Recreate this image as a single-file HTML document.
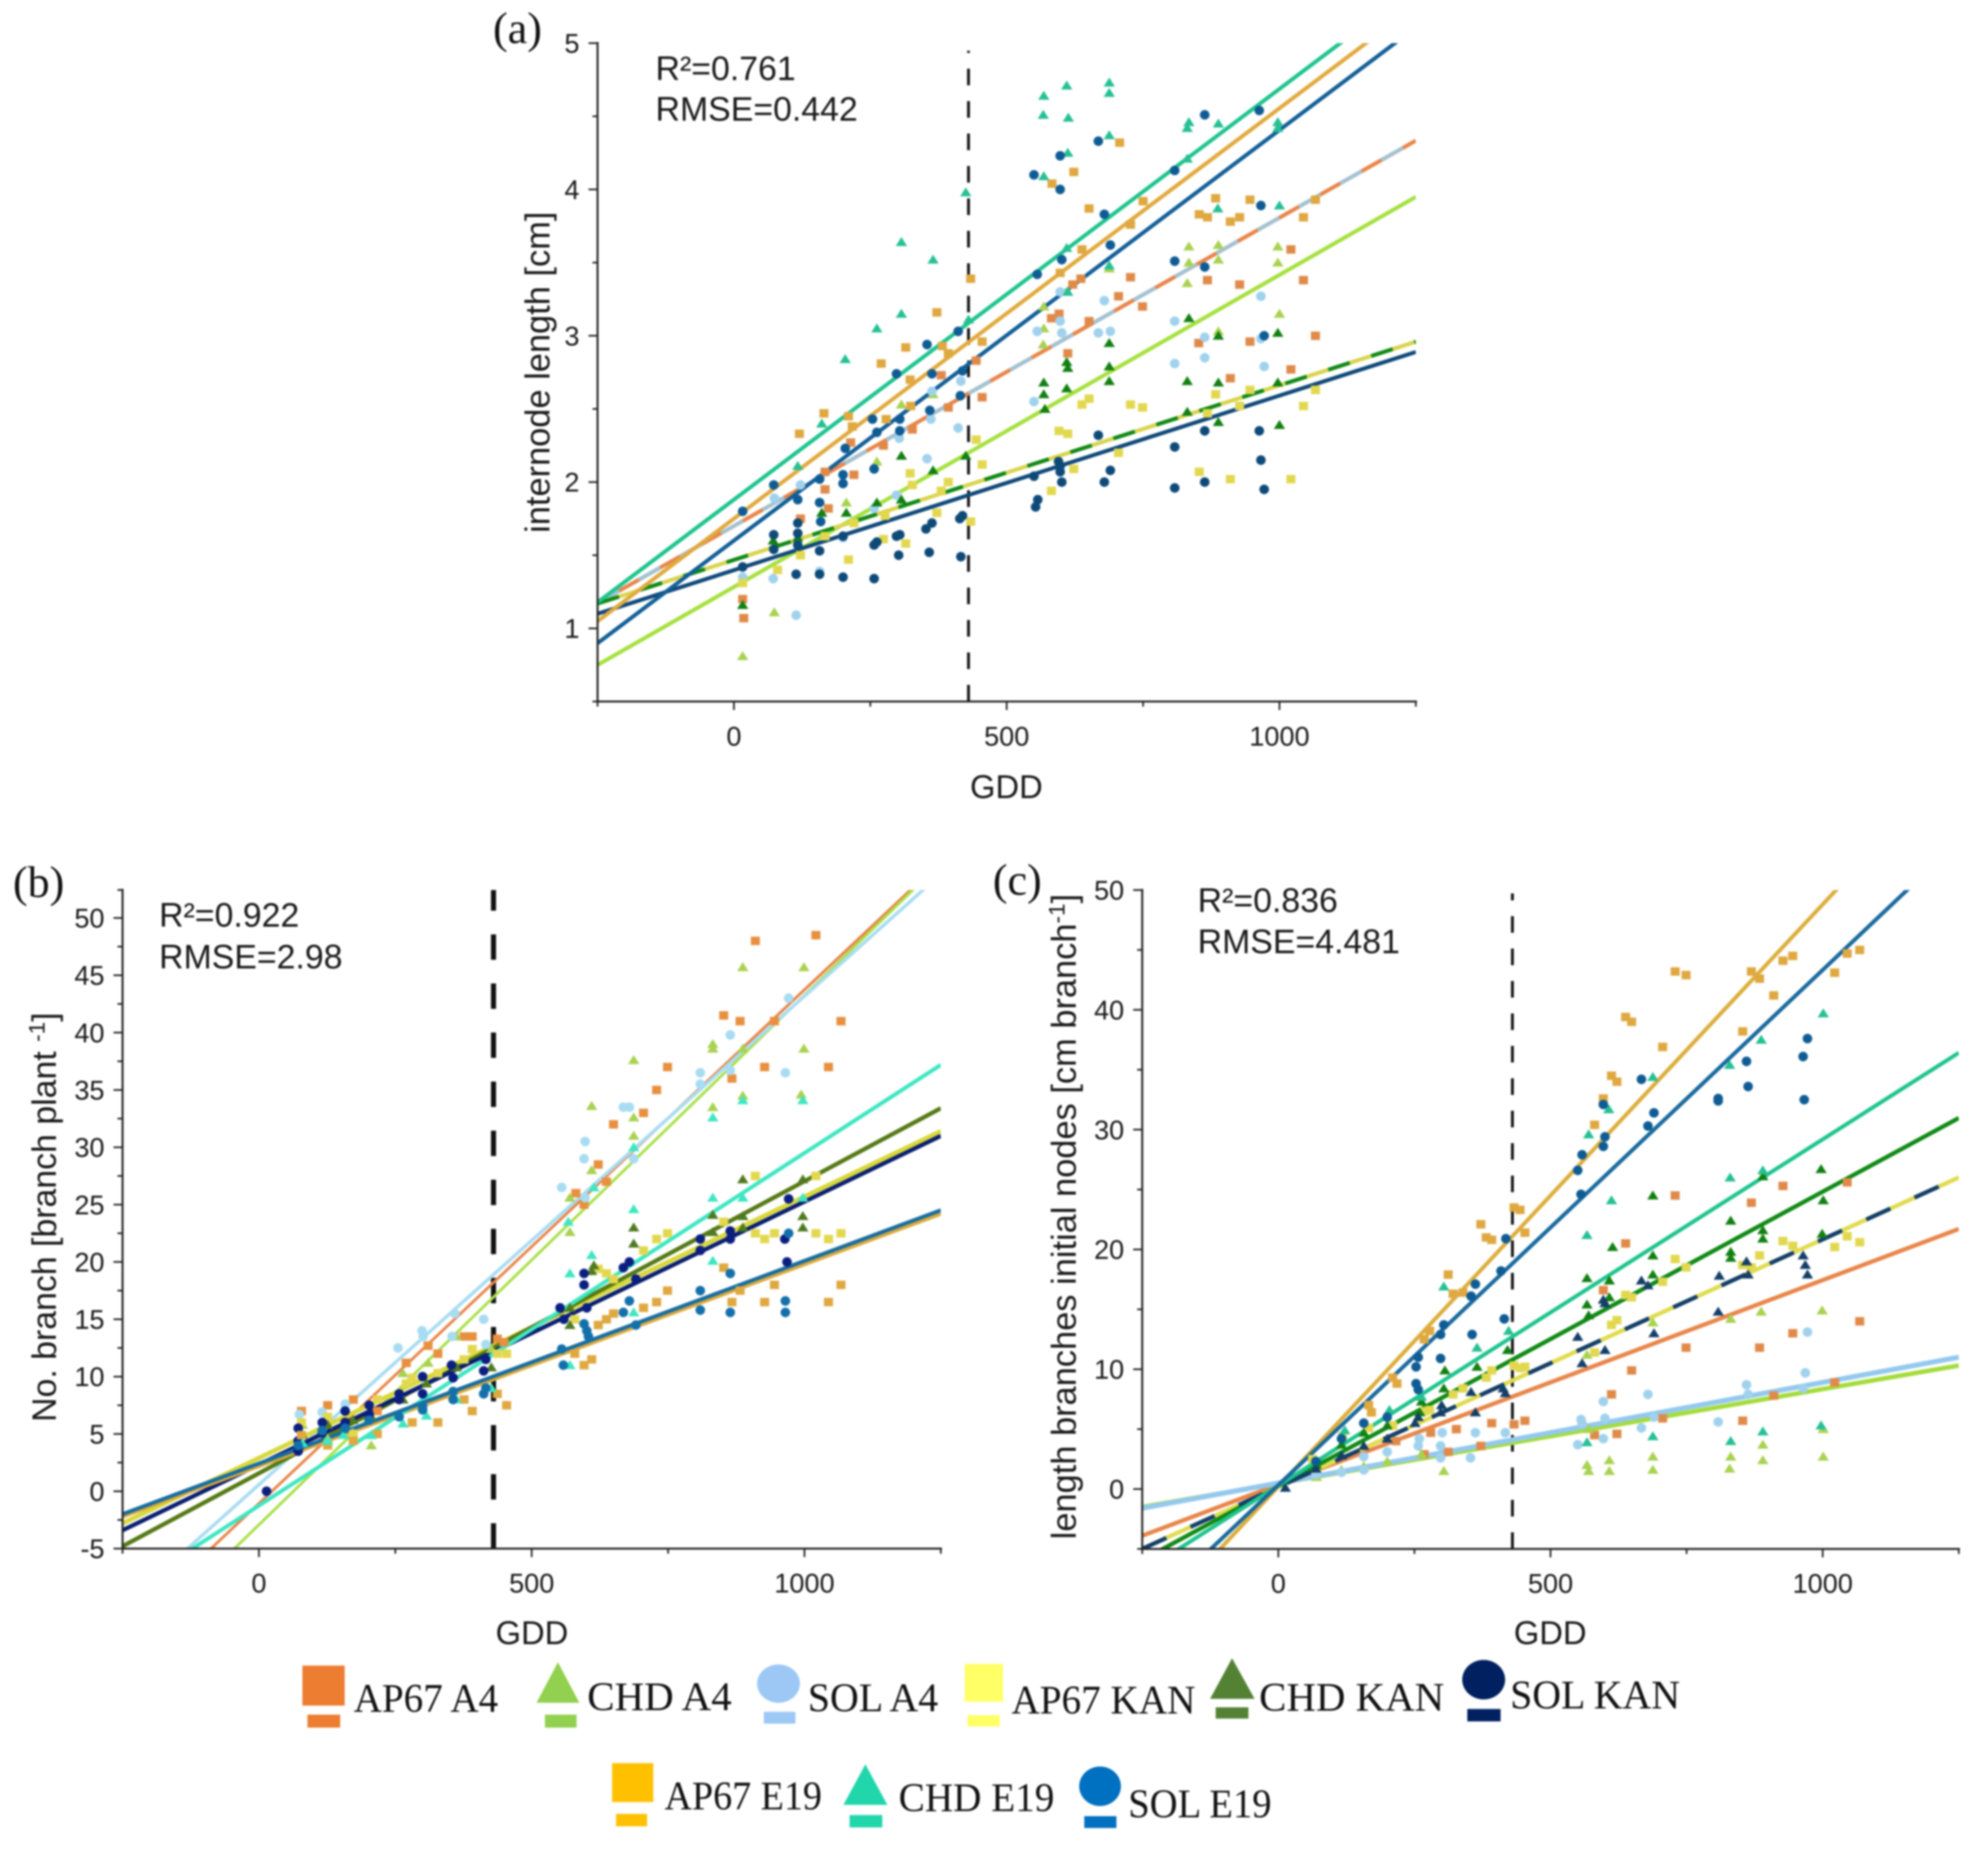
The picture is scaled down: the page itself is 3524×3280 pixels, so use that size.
<!DOCTYPE html>
<html lang="en">
<head>
<meta charset="utf-8">
<title>Internode length, branch number and branch length versus GDD</title>
<style>
html,body{margin:0;padding:0;background:#fff;width:3524px;height:3280px;overflow:hidden}
svg{display:block;filter:blur(1.5px)}
.t{font-family:"Liberation Sans",sans-serif;fill:#1a1a1a}
.s{font-family:"Liberation Serif",serif;fill:#111}
</style>
</head>
<body>
<svg id="figure" xmlns="http://www.w3.org/2000/svg" width="3524" height="3280" viewBox="0 0 3524 3280">
<rect width="3524" height="3280" fill="#fff"/>
<g id="panel-a"></g>
<g id="panel-b"></g>
<g id="panel-c"></g>

<text class="s" x="874" y="76" font-size="78">(a)</text>
<text class="s" x="23" y="1590" font-size="78">(b)</text>
<text class="s" x="1760" y="1586" font-size="78">(c)</text>

<text class="t" x="1162" y="142" font-size="60">R²=0.761</text>
<text class="t" x="1162" y="214" font-size="60">RMSE=0.442</text>
<text class="t" x="282" y="1643" font-size="60">R²=0.922</text>
<text class="t" x="282" y="1717" font-size="60">RMSE=2.98</text>
<text class="t" x="2123" y="1617" font-size="60">R²=0.836</text>
<text class="t" x="2123" y="1690" font-size="60">RMSE=4.481</text>

<text class="t" x="1784" y="1415" font-size="58" text-anchor="middle">GDD</text>
<text class="t" x="943" y="2915" font-size="58" text-anchor="middle">GDD</text>
<text class="t" x="2748" y="2915" font-size="58" text-anchor="middle">GDD</text>

<text class="t" transform="translate(974,660) rotate(-90)" font-size="61" text-anchor="middle">internode length [cm]</text>
<text class="t" transform="translate(99,2158) rotate(-90)" font-size="60" text-anchor="middle">No. branch [branch plant <tspan dy="-20" font-size="40">-1</tspan><tspan dy="20">]</tspan></text>
<text class="t" transform="translate(1907,2157) rotate(-90)" font-size="61" text-anchor="middle">length branches initial nodes [cm branch<tspan dy="-20" font-size="40">-1</tspan><tspan dy="20">]</tspan></text>

<g>
<g>
<rect x="536" y="2953" width="75" height="71" fill="#ed7d31"/><rect x="545" y="3040" width="58" height="23" fill="#ed7d31"/>
<text class="s" x="627" y="3035" font-size="72" textLength="256" lengthAdjust="spacingAndGlyphs">AP67 A4</text></g>
<g>
<polygon points="951,3019 1027,3019 989,2947" fill="#92d050"/><rect x="966" y="3040" width="56" height="23" fill="#92d050"/>
<text class="s" x="1041" y="3032" font-size="72" textLength="256" lengthAdjust="spacingAndGlyphs">CHD A4</text></g>
<g>
<ellipse cx="1380" cy="2985" rx="38" ry="34" fill="#9dc8f5"/><rect x="1354" y="3035" width="56" height="21" fill="#9dc8f5"/>
<text class="s" x="1432" y="3034" font-size="72" textLength="231" lengthAdjust="spacingAndGlyphs">SOL A4</text></g>
<g>
<rect x="1710" y="2950" width="68" height="67" fill="#ffff66"/><rect x="1715" y="3041" width="57" height="20" fill="#ffff66"/>
<text class="s" x="1793" y="3038" font-size="72" textLength="326" lengthAdjust="spacingAndGlyphs">AP67 KAN</text></g>
<g>
<polygon points="2145,3012 2224,3012 2184,2940" fill="#548235"/><rect x="2155" y="3027" width="58" height="20" fill="#548235"/>
<text class="s" x="2232" y="3033" font-size="72" textLength="328" lengthAdjust="spacingAndGlyphs">CHD KAN</text></g>
<g>
<ellipse cx="2630" cy="2978" rx="38" ry="35" fill="#002060"/><rect x="2601" y="3030" width="59" height="22" fill="#002060"/>
<text class="s" x="2677" y="3029" font-size="72" textLength="301" lengthAdjust="spacingAndGlyphs">SOL KAN</text></g>
<g>
<rect x="1085" y="3126" width="73" height="69" fill="#ffc000"/><rect x="1092" y="3216" width="55" height="22" fill="#ffc000"/>
<text class="s" x="1178" y="3208" font-size="72" textLength="279" lengthAdjust="spacingAndGlyphs">AP67 E19</text></g>
<g>
<polygon points="1495,3200 1573,3200 1534,3128" fill="#22d6ac"/><rect x="1506" y="3218" width="58" height="22" fill="#22d6ac"/>
<text class="s" x="1593" y="3211" font-size="72" textLength="276" lengthAdjust="spacingAndGlyphs">CHD E19</text></g>
<g>
<ellipse cx="1950" cy="3167" rx="37" ry="35" fill="#0070c0"/><rect x="1922" y="3220" width="57" height="21" fill="#0070c0"/>
<text class="s" x="2000" y="3222" font-size="72" textLength="254" lengthAdjust="spacingAndGlyphs">SOL E19</text></g>
</g>
</svg>

<script>
// Series order for all line arrays
const seriesNames = ['AP67 A4','CHD A4','SOL A4','AP67 KAN','CHD KAN','SOL KAN','AP67 E19','CHD E19','SOL E19'];
const xTickValues = [-250,0,250,500,750,1000,1250];
const xTickLabels = [0,500,1000];
const splitGdd = 430;

// Panel (a) fits
const aIntercepts = [1.70,1.283,1.70,1.468,1.468,1.398,1.75,1.88,1.60];
const aSlopes = [0.002107,0.002133,0.002107,0.001193,0.001193,0.001193,0.002805,0.002807,0.002806];
const aYMajor = [1,2,3,4,5];
const aYMinor = [0.5,1.5,2.5,3.5,4.5];
// Panel (a) observations [GDD, internode length]
const aAp67A4 = [[16,1.2],[18,1.07],[122,1.75],[167,2.07],[167,1.95],[173,1.82],[214,2.27],[220,2.05],[274,2.25],[327,2.36],[380,2.73],[393,2.51],[444,2.83],[455,2.58],[582,3.12],[596,3.15],[612,2.88],[621,3.35],[636,3.39],[651,3.1],[705,3.27],[727,3.4],[749,3.2],[868,3.38],[852,2.95],[910,2.71],[927,3.35],[946,2.96],[1021,2.77],[1044,3.38],[1066,3.0],[1021,3.59]];
const aChdA4 = [[16,0.81],[74,1.11],[206,1.86],[262,2.14],[307,2.53],[365,2.6],[568,3.2],[568,3.05],[567,2.94],[610,3.3],[688,3.46],[834,3.61],[834,3.5],[831,3.36],[888,3.62],[888,3.52],[888,3.03],[997,3.61],[997,3.5],[1000,3.15]];
const aSolA4 = [[16,1.35],[72,1.34],[114,1.09],[122,1.98],[74,1.89],[157,1.39],[200,1.62],[257,1.82],[298,1.91],[303,2.3],[354,2.16],[361,2.43],[363,2.62],[411,2.37],[416,2.69],[556,3.03],[598,3.3],[598,3.1],[601,3.02],[668,3.02],[679,3.24],[690,3.03],[550,2.55],[808,3.1],[808,2.81],[863,2.99],[863,2.85],[966,3.27],[966,2.98],[972,2.79]];
const aAp67Kan = [[16,1.31],[80,1.4],[122,1.5],[167,1.63],[210,1.47],[220,1.72],[274,1.61],[277,1.77],[315,1.58],[323,2.06],[327,1.98],[372,1.79],[380,1.94],[393,2.0],[434,1.73],[444,2.29],[455,2.12],[582,1.94],[596,2.35],[612,2.33],[623,2.09],[638,2.53],[651,2.57],[705,2.2],[727,2.53],[749,2.51],[853,2.07],[868,2.47],[883,2.6],[910,2.02],[927,2.52],[946,2.63],[1021,2.02],[1044,2.52],[1066,2.63]];
const aChdKan = [[16,1.16],[72,1.6],[117,1.62],[161,1.79],[206,1.79],[262,1.86],[307,2.18],[307,1.88],[365,2.08],[425,2.18],[568,2.68],[568,2.6],[570,2.5],[610,2.82],[612,2.78],[610,2.64],[688,2.95],[688,2.79],[688,2.69],[834,3.12],[831,2.69],[831,2.48],[888,3.0],[888,2.68],[888,2.41],[997,3.02],[997,2.68],[1000,2.39]];
const aSolKan = [[553,1.83],[557,1.88],[550,2.04],[595,2.14],[598,2.11],[598,2.07],[601,2.0],[668,2.32],[679,2.0],[690,2.08],[808,2.24],[808,1.96],[863,2.35],[863,2.0],[963,2.35],[966,2.15],[972,1.95],[416,1.49],[414,1.75],[419,1.77],[358,1.52],[352,1.68],[363,1.72],[302,1.5],[298,1.63],[304,1.64],[257,1.57],[262,1.59],[257,1.34],[200,1.63],[200,1.35],[157,1.53],[157,1.37],[117,1.72],[117,1.65],[117,1.57],[114,1.37],[73,1.64],[73,1.54],[16,1.42]];
const aAp67E19 = [[120,2.33],[165,2.47],[210,2.45],[217,2.38],[270,2.81],[279,2.43],[315,2.92],[323,2.7],[372,3.16],[324,2.52],[382,2.93],[393,2.88],[434,3.39],[455,2.96],[583,4.04],[623,4.12],[707,4.32],[651,3.87],[638,3.59],[598,3.43],[727,3.76],[750,3.92],[883,3.94],[853,3.83],[868,3.81],[910,3.78],[927,3.81],[946,3.93],[1044,3.81],[1066,3.93]];
const aChdE19 = [[204,2.84],[161,2.4],[117,2.11],[262,3.05],[307,3.64],[307,3.15],[365,3.52],[425,3.98],[430,3.11],[568,4.64],[610,4.71],[567,4.51],[613,4.49],[612,4.25],[568,4.09],[688,4.73],[688,4.66],[688,4.37],[834,4.46],[831,4.42],[831,4.21],[888,4.45],[997,4.46],[997,4.42],[887,3.87],[1000,3.89],[688,3.48],[610,3.6],[612,3.3]];
const aSolE19 = [[550,4.1],[598,4.23],[598,4.0],[668,4.33],[963,4.54],[863,4.51],[808,4.13],[679,3.83],[966,3.89],[690,3.62],[601,3.52],[556,3.42],[808,3.51],[863,3.47],[972,3.0],[411,3.03],[354,2.94],[298,2.74],[363,2.74],[419,2.76],[254,2.43],[304,2.43],[262,2.34],[304,2.35],[359,2.49],[415,2.59],[204,2.23],[200,2.05],[200,1.99],[257,2.09],[157,2.02],[73,1.98],[117,1.88],[16,1.8],[157,1.86],[159,1.73]];

// Panel (b) fits
const bIntercepts = [-1.06,-2.92,0.58,2.9,1.57,2.33,2.2,-1.25,2.42];
const bSlopes = [0.0448,0.04618,0.0426,0.0228,0.02547,0.02293,0.0176,0.03075,0.01767];
const bYMajor = [-5,0,5,10,15,20,25,30,35,40,45,50];
const bYMinor = [-2.5,2.5,7.5,12.5,17.5,22.5,27.5,32.5,37.5,42.5,47.5,52.44];
// Panel (b) observations [GDD, branches per plant]
const bAp67A4 = [[78,7],[126,7.5],[173,8],[217,7],[270,11.2],[310,12.7],[328,12],[376,13.5],[391,13.5],[437,13.3],[449,13],[581,26],[596,25],[622,28.5],[637,27],[650,32],[705,33],[729,35],[749,37],[852,41.5],[867,36],[882,41],[910,48],[927,37],[945,41],[1021,48.5],[1044,37],[1067,41]];
const bChdA4 = [[80,5.8],[126,4.6],[172,5.1],[206,4],[264,10.3],[310,11.2],[362,13.5],[426,12.4],[570,25.6],[570,22.6],[610,33.6],[610,28],[687,37.6],[687,32.6],[687,31],[832,39],[832,38.6],[832,33.5],[887,45.7],[887,34.5],[887,38.6],[999,45.7],[999,38.6],[994,34.6]];
const bSolA4 = [[74,6.7],[116,6.9],[158,7.6],[255,12.5],[299,14],[301,13.5],[354,13.5],[359,15.5],[412,15],[416,12.8],[555,26.5],[596,29],[598,30.5],[598,25.6],[668,33.5],[679,33.5],[687,29],[809,36.5],[809,35.5],[864,39.8],[864,36.7],[965,36.5],[971,43]];
const bAp67Kan = [[78,6],[126,6.5],[173,5],[217,8],[270,9.4],[281,9.9],[328,10.3],[376,11.5],[391,12.4],[437,12],[454,12],[579,15],[622,19.4],[637,19],[650,18.5],[705,21],[729,22],[749,22.5],[852,23.5],[910,27.5],[910,22.5],[927,22],[945,22.5],[1021,27.5],[1021,22.5],[1044,22],[1067,22.5]];
const bChdKan = [[80,4.9],[126,5.8],[172,6.2],[206,6.5],[264,8],[307,9.4],[362,10.8],[426,10.8],[570,14.5],[570,16],[610,19.2],[614,19.7],[687,23],[687,21.6],[832,24.1],[832,22.6],[887,27.2],[887,24],[887,23],[997,27.2],[997,24],[997,23]];
const bChdE19 = [[80,4.2],[126,4.4],[155,4.9],[206,4.9],[264,5.9],[307,6.6],[362,8],[426,9],[567,23.5],[570,19],[570,11],[610,20.6],[614,26.5],[687,24.6],[687,15.6],[687,30],[832,25.6],[832,32.6],[832,20.1],[887,34.1],[887,25.6],[997,34.1],[997,25.6]];
const bAp67E19 = [[78,4.9],[126,4],[173,4.4],[217,5],[281,6],[328,6],[376,8],[391,7],[437,8.5],[454,7.5],[579,12],[596,11],[610,11.5],[622,14.5],[637,15],[650,15.5],[705,16],[729,16.5],[749,17.5],[867,16.5],[882,17.5],[927,16.5],[945,18],[1044,16.5],[1067,18],[852,19.5]];
const bSolE19 = [[72,4],[116,5.3],[158,5.5],[202,6.2],[257,6.5],[300,7.4],[300,7.1],[356,8],[356,8.7],[412,8.5],[416,9],[555,12.4],[558,11],[596,14.6],[601,14],[604,13.5],[668,15.6],[679,16.6],[691,14.5],[809,17.5],[809,15.8],[864,19],[864,15.6],[965,16.6],[965,15.6],[971,22.5]];
const bSolKan = [[14,0],[72,5.5],[72,4.4],[72,3.5],[116,6],[116,5.1],[158,7],[158,6],[202,7.5],[202,6.7],[257,8.5],[257,8],[300,10],[300,8.5],[353,11],[356,9.9],[412,10.5],[416,11.5],[552,16],[559,15],[596,19],[596,18],[601,16],[668,19.5],[679,20],[691,18.5],[809,22],[809,21],[864,22.7],[864,22],[964,22],[968,20],[971,25.5]];

// Panel (c) fits
const cIntercepts = [0.37,0.47,0.5,0.17,0.22,0.17,0.2,0.29,0.33];
const cSlopes = [0.01707,0.00787,0.0084,0.02067,0.0246,0.02067,0.0486,0.0289,0.043];
const cYMajor = [0,10,20,30,40,50];
const cYMinor = [-5,5,15,25,35,45];
// Panel (c) observations [GDD, branch length]
const cAp67A4 = [[216,4],[280,4.7],[268,2.9],[312,3.1],[327,5],[372,3.6],[392,5.5],[433,5.4],[453,5.7],[581,4.5],[597,16.6],[612,7.9],[622,4.6],[638,20.5],[649,9.9],[706,5.9],[729,24.5],[749,11.8],[853,5.7],[869,23.9],[884,11.8],[910,7.8],[927,25.3],[945,13],[1022,8.9],[1045,25.6],[1068,14]];
const cChdA4 = [[70,1],[116,1.6],[157,1.9],[200,2.3],[263,2.9],[304,1.5],[567,2],[570,1.5],[608,2.4],[608,1.5],[567,11.2],[570,5],[688,2.7],[688,1.6],[688,13.9],[831,2.7],[829,1.7],[831,14.2],[890,3.7],[890,2.4],[887,14.8],[1001,5],[1001,2.7],[999,14.9]];
const cSolA4 = [[69,1.2],[116,1.4],[157,2.7],[157,1.6],[200,3.1],[259,4.2],[257,3.6],[301,4.7],[298,3.6],[298,2.6],[353,2.6],[362,4.7],[417,4.7],[550,3.7],[556,5.8],[558,5.5],[597,7.3],[600,5.9],[597,4.2],[667,5.1],[679,7.9],[690,6],[808,5.6],[860,8.7],[863,7.9],[972,13.1],[968,9.7],[964,8.4]];
const cAp67Kan = [[63,2.5],[118,4.4],[166,5.1],[210,5.3],[268,6.5],[278,6.6],[321,7.9],[339,8.4],[382,9.3],[392,9.9],[433,10.3],[444,10.1],[453,10.2],[581,11.4],[612,13.7],[622,14.1],[638,16.2],[649,16],[706,17.3],[729,19.2],[749,18.5],[853,18.7],[869,18.5],[884,19.5],[927,20.7],[945,20.3],[1022,20.2],[1045,21.1],[1068,20.6]];
const cChdKan = [[70,2],[116,3.7],[157,4.7],[200,5.3],[260,6.4],[263,7.3],[306,9.9],[304,8.4],[365,10.2],[421,11.6],[567,17.6],[567,15.4],[570,14.5],[614,20.2],[608,17.4],[608,16],[688,24.5],[688,19.5],[688,17.9],[831,22.4],[831,19.8],[831,19.3],[890,26.1],[890,21.6],[890,20.9],[997,26.7],[1001,24.1],[999,21.3]];
const cSolKan = [[13,0.1],[69,1.7],[116,2.8],[157,3.6],[200,4.2],[251,5.5],[257,6],[298,6.4],[300,7],[354,8.1],[362,6.4],[413,8.4],[417,8],[550,12.7],[558,10.5],[597,15.8],[600,15.5],[600,11.6],[667,17.4],[679,17],[690,13],[810,17.8],[808,14.8],[860,19],[863,17.9],[964,19.5],[968,18.7],[972,17.9]];
const cAp67E19 = [[166,7],[171,6.4],[210,9.3],[218,8.8],[268,12.5],[278,13.2],[312,17.9],[321,16.3],[339,16.4],[372,22.1],[382,21],[392,20.8],[433,23.5],[444,23.3],[453,21.4],[581,30.4],[597,32.6],[612,34.5],[622,34],[638,39.4],[649,39],[706,36.9],[729,43.2],[749,42.9],[853,38.2],[869,43.2],[884,42.6],[910,41.2],[927,44.1],[945,44.5],[1022,43.1],[1045,44.7],[1068,45]];
const cChdE19 = [[122,4.9],[204,6.6],[263,7.7],[304,16.9],[365,11.8],[423,13.2],[567,21.2],[570,29.6],[612,24.1],[607,31.7],[688,34.4],[830,26],[829,35.4],[890,26.6],[887,37.5],[1001,39.7],[567,3.9],[688,4.4],[831,4],[890,4.8],[997,5.3]];
const cSolE19 = [[69,2.3],[116,4.2],[157,5.5],[200,6],[253,8.8],[257,11],[253,10.2],[257,8.3],[298,12.9],[304,13.7],[298,10.9],[354,16.1],[362,17.1],[356,12.9],[409,18.2],[418,20.9],[415,14.2],[550,26.6],[558,27.9],[556,24.6],[597,32.1],[600,29.4],[597,28.6],[667,34.2],[679,30.3],[690,31.4],[808,32.6],[808,32.4],[860,35.7],[863,33.6],[964,36.1],[972,37.6],[966,32.5]];

const SVG_NS = 'http://www.w3.org/2000/svg';
const aLineColors = ['#e8864a','#a6e03f','#a3c2d2','#d9d44e','#118a16','#10497a','#e0aa3e','#1fc48e','#135f98'];
const bLineColors = ['#e8864a','#a9e04a','#a8dcf2','#d8d83c','#567a16','#0b1f70','#dcaa3c','#3fe6c2','#1a6ea0'];
const cLineColors = ['#e8864a','#a4dc3c','#93c9ee','#e0dc50','#118a16','#143f68','#dcae3c','#1fc48e','#1a6a9e'];
const aMarkColors = ['#e08a4a','#a8d250','#a0d2ee','#e2d850','#128012','#0e4a78','#dfa840','#26c094','#0f5c94'];
const bMarkColors = ['#e8903f','#a8d250','#a8dcf2','#e2d850','#4f7a20','#0b1f80','#dfa840','#3fe6c2','#1470aa'];
const cMarkColors = ['#e08a4a','#a8d250','#a0d2ee','#e2d850','#128012','#143f68','#dfa840','#26c094','#0f5c94'];
const squareRow = ['square','triangle','circle','square','triangle','circle','square','triangle','circle'];
const cShapes = ['square','triangle','circle','square','triangle','triangle','square','triangle','circle'];

function make(parent, tag, attrs) {
  const el = document.createElementNS(SVG_NS, tag);
  for (const k in attrs) el.setAttribute(k, attrs[k]);
  parent.appendChild(el);
  return el;
}
function slug(s) { return s.toLowerCase().replace(/\s+/g, '-'); }

function drawMarker(g, shape, px, py, color, seriesName) {
  let m;
  if (shape === 'square') {
    m = make(g, 'rect', {x: px - 8, y: py - 7.5, width: 16, height: 15, fill: color});
  } else if (shape === 'triangle') {
    m = make(g, 'polygon', {points: (px - 10) + ',' + (py + 7) + ' ' + (px + 10) + ',' + (py + 7) + ' ' + px + ',' + (py - 9), fill: color});
  } else {
    m = make(g, 'circle', {cx: px, cy: py, r: 8.5, fill: color});
  }
  
  
}

function drawPanel(cfg) {
  const root = document.getElementById(cfg.id);
  const xScale = function (v) { return cfg.x0 + v * cfg.xk; };
  const yScale = function (v) { return cfg.y0 - v * cfg.yk; };
  const left = xScale(-250), right = xScale(1250);
  const bottom = yScale(cfg.yMin), top = yScale(cfg.yMax);

  const clip = make(root, 'clipPath', {id: cfg.id + '-clip'});
  make(clip, 'rect', {x: left, y: top, width: right - left, height: bottom - top});

  const split = make(root, 'line', {
    x1: xScale(splitGdd), x2: xScale(splitGdd), y1: bottom, y2: cfg.splitTop,
    stroke: '#111', 'stroke-width': cfg.splitWidth, 'stroke-dasharray': cfg.splitDash
  });
  
  

  const linesG = make(root, 'g', {'clip-path': 'url(#' + cfg.id + '-clip)'});
  
  
  seriesNames.forEach(function (name, i) {
    const a = cfg.intercepts[i], b = cfg.slopes[i];
    const line = make(linesG, 'line', {
      x1: xScale(-250), y1: yScale(a + b * -250),
      x2: xScale(1250), y2: yScale(a + b * 1250),
      stroke: cfg.lineColors[i], 'stroke-width': cfg.widths[i]
    });
    if (cfg.dashes[i]) line.setAttribute('stroke-dasharray', cfg.dashes[i]);
    
    
  });

  const ptsG = make(root, 'g', {});
  
  
  cfg.points.forEach(function (series, i) {
    series.forEach(function (p) {
      drawMarker(ptsG, cfg.shapes[i], xScale(p[0]), yScale(p[1]), cfg.markColors[i], seriesNames[i]);
    });
  });

  const xAxis = make(root, 'line', {x1: left - 2, x2: right + 2, y1: bottom, y2: bottom, stroke: '#222', 'stroke-width': 3.5});
  
  
  const yAxis = make(root, 'line', {x1: left, x2: left, y1: top - 2, y2: bottom + 2, stroke: '#222', 'stroke-width': 3.5});
  
  

  xTickValues.forEach(function (v) {
    const isLabel = xTickLabels.indexOf(v) >= 0;
    const t = make(root, 'line', {x1: xScale(v), x2: xScale(v), y1: bottom, y2: bottom + (isLabel ? 15 : 9), stroke: '#222', 'stroke-width': 3});
    
    
  });
  xTickLabels.forEach(function (v) {
    const t = make(root, 'text', {x: xScale(v), y: bottom + 78, 'font-size': 48, 'text-anchor': 'middle', class: 't'});
    t.textContent = String(v);
    
    
  });
  cfg.yMajor.forEach(function (v) {
    const t = make(root, 'line', {x1: left - 16, x2: left, y1: yScale(v), y2: yScale(v), stroke: '#222', 'stroke-width': 3});
    
    
    const l = make(root, 'text', {x: left - 32, y: yScale(v) + 17, 'font-size': 48, 'text-anchor': 'end', class: 't'});
    l.textContent = String(v);
    
    
  });
  cfg.yMinor.forEach(function (v) {
    const t = make(root, 'line', {x1: left - 9, x2: left, y1: yScale(v), y2: yScale(v), stroke: '#222', 'stroke-width': 3});
    
    
  });
}

drawPanel({
  id: 'panel-a', x0: 1301, xk: 0.967, y0: 1373.5, yk: 259.4, yMin: 0.5, yMax: 5,
  intercepts: aIntercepts, slopes: aSlopes, yMajor: aYMajor, yMinor: aYMinor,
  points: [aAp67A4, aChdA4, aSolA4, aAp67Kan, aChdKan, aSolKan, aAp67E19, aChdE19, aSolE19],
  lineColors: aLineColors, markColors: aMarkColors, shapes: squareRow,
  widths: [7,7,7,7,7,7,7,7,7],
  dashes: ['', '', '44 40', '', '40 40', '', '', '', ''],
  splitTop: 90, splitWidth: 5, splitDash: '29.5 28'
});
drawPanel({
  id: 'panel-b', x0: 459, xk: 0.967, y0: 2644, yk: 20.33, yMin: -5, yMax: 52.44,
  intercepts: bIntercepts, slopes: bSlopes, yMajor: bYMajor, yMinor: bYMinor,
  points: [bAp67A4, bChdA4, bSolA4, bAp67Kan, bChdKan, bSolKan, bAp67E19, bChdE19, bSolE19],
  lineColors: bLineColors, markColors: bMarkColors, shapes: squareRow,
  widths: [5,5,6,8,7.5,7.5,7,7,7],
  dashes: ['', '', '', '', '', '', '', '', ''],
  splitTop: 1578, splitWidth: 9, splitDash: '45 42'
});
drawPanel({
  id: 'panel-c', x0: 2266, xk: 0.965, y0: 2640, yk: 21.24, yMin: -5, yMax: 50,
  intercepts: cIntercepts, slopes: cSlopes, yMajor: cYMajor, yMinor: cYMinor,
  points: [cAp67A4, cChdA4, cSolA4, cAp67Kan, cChdKan, cSolKan, cAp67E19, cChdE19, cSolE19],
  lineColors: cLineColors, markColors: cMarkColors, shapes: cShapes,
  widths: [7.5,8,9,7.5,7.5,7.5,7,7,7],
  dashes: ['', '', '', '', '', '47 47', '', '', ''],
  splitTop: 1584, splitWidth: 5, splitDash: '29.5 28'
});
</script>
</body>
</html>
